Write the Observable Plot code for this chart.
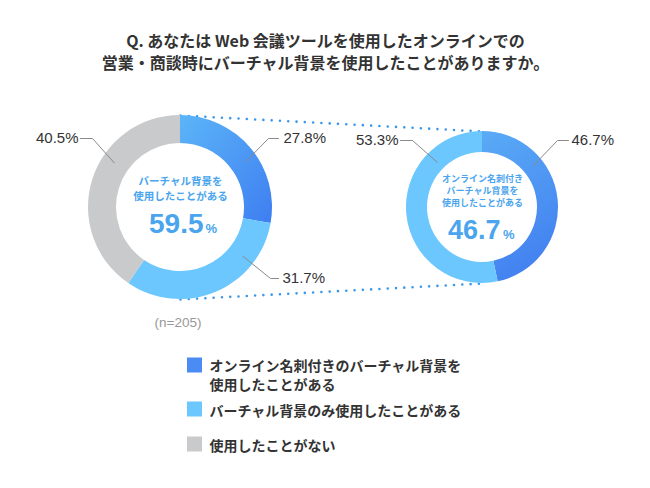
<!DOCTYPE html>
<html><head><meta charset="utf-8">
<script src="https://cdn.jsdelivr.net/npm/d3@7"></script>
<script src="https://cdn.jsdelivr.net/npm/@observablehq/plot@0.6"></script>
<style>body{margin:0;background:#fff}</style>
</head><body><div id="chart"></div>
<script>
// ---- data ----
const titleLines = ["Q. あなたは Web 会議ツールを使用したオンラインでの", "営業・商談時にバーチャル背景を使用したことがありますか。"];
const categories = ["オンライン名刺付きのバーチャル背景を使用したことがある", "バーチャル背景のみ使用したことがある", "使用したことがない"];
const overallValues = [27.8, 31.7, 40.5];
const usedShare = 59.5;
const breakdownCategories = ["オンライン名刺付き", "バーチャル背景のみ"];
const breakdownValues = [46.7, 53.3];
const sampleSize = 205;
const centerLabelLeft = ["バーチャル背景を", "使用したことがある"];
const centerLabelRight = ["オンライン名刺付き", "バーチャル背景を", "使用したことがある"];
const legendLabels = ["オンライン名刺付きのバーチャル背景を\n使用したことがある", "バーチャル背景のみ使用したことがある", "使用したことがない"];

// ---- style / layout ----
const colDark = "#4a8cf3", colLight = "#6bc7fd", colGray = "#c9cacc";
const textCol = "#333333", accent = "#4aa5ee";
const jp = "'Noto Sans CJK JP', sans-serif";
const num = "'Liberation Sans', Arial, sans-serif";
const L = {cx: 180, cy: 207, r0: 64, r1: 92};
const R = {cx: 482, cy: 207, r0: 55, r1: 76};

function donut(values, geo, fills, gradId, grad) {
  return (index, scales) => {
    const g = d3.create("svg:g");
    const lg = g.append("defs").append("linearGradient").attr("id", gradId)
      .attr("x1", grad[0]).attr("y1", grad[1]).attr("x2", grad[2]).attr("y2", grad[3]);
    lg.append("stop").attr("offset", "0%").attr("stop-color", grad[4]);
    lg.append("stop").attr("offset", "100%").attr("stop-color", grad[5]);
    const arcs = d3.pie().sort(null).value(d => d)(values);
    const arc = d3.arc().innerRadius(geo.r0).outerRadius(geo.r1);
    g.attr("transform", `translate(${scales.x(geo.cx)},${scales.y(geo.cy)})`);
    g.selectAll("path").data(arcs).join("path").attr("d", arc)
      .attr("fill", (d, i) => i === 0 ? `url(#${gradId})` : fills[i]);
    return g.node();
  };
}

const pt = (geo, a, r) => [geo.cx + r * Math.sin(a * Math.PI / 180), geo.cy - r * Math.cos(a * Math.PI / 180)];
const leaders = [
  {geo: L, angle: 55, r: 79, elbow: [268, 138], end: 278, label: overallValues[0], tx: 283, anchor: "start"},
  {geo: L, angle: 128, r: 79, elbow: [270, 278], end: 278, label: overallValues[1], tx: 282, anchor: "start"},
  {geo: L, angle: 304, r: 80, elbow: [92, 138], end: 80, label: overallValues[2], tx: 78, anchor: "end"},
  {geo: R, angle: 50.5, r: 66, elbow: [557, 140], end: 568, label: breakdownValues[0], tx: 571, anchor: "start"},
  {geo: R, angle: 315, r: 64, elbow: [412, 140], end: 400, label: breakdownValues[1], tx: 398, anchor: "end"}
];
const leaderPts = leaders.flatMap((d, i) => {
  const p = pt(d.geo, d.angle, d.r);
  return [{x: p[0], y: p[1], g: i}, {x: d.elbow[0], y: d.elbow[1], g: i}, {x: d.end, y: d.elbow[1], g: i}];
});

const connectors = [
  {x1: L.cx, y1: L.cy - L.r1, x2: R.cx, y2: R.cy - R.r1},
  {x1: L.cx, y1: L.cy + L.r1, x2: R.cx, y2: R.cy + R.r1}
];

const legendRows = [
  {y: 365, ty: 373.5, text: legendLabels[0], fill: colDark},
  {y: 409, ty: 409, text: legendLabels[1], fill: colLight},
  {y: 444, ty: 444, text: legendLabels[2], fill: colGray}
];

const pctText = (anchor) => Plot.text(leaders.filter(d => d.anchor === anchor), {
  x: "tx", y: d => d.elbow[1], text: d => d.label.toFixed(1) + "%", textAnchor: anchor,
  fontFamily: num, fontSize: 15, fill: textCol
});

const chart = Plot.plot({
  width: 650, height: 488, margin: 0,
  x: {domain: [0, 650], range: [0, 650], axis: null},
  y: {domain: [0, 488], range: [0, 488], axis: null},
  marks: [
    Plot.link(connectors, {x1: "x1", y1: "y1", x2: "x2", y2: "y2", stroke: "#3d97e8", strokeWidth: 2.6, strokeDasharray: "0 8.3", strokeLinecap: "round"}),
    donut(overallValues, L, [colDark, colLight, colGray], "gL", ["0", "0", "1", "1", "#5cb5f8", "#3e7ef1"]),
    donut(breakdownValues, R, [colDark, colLight], "gR", ["0", "0", "0.3", "1", "#5aabf6", "#4382f0"]),
    Plot.line(leaderPts, {x: "x", y: "y", z: "g", stroke: "#8a8a8a", strokeWidth: 1}),
    pctText("start"),
    pctText("end"),
    // titles
    Plot.text(titleLines, {x: 325, y: (d, i) => 41 + i * 22, text: d => d, fontFamily: jp, fontWeight: 700, fontSize: 16, fill: textCol}),
    // center labels
    Plot.text(centerLabelLeft, {x: L.cx, y: (d, i) => 181 + i * 15.5, text: d => d, fontFamily: jp, fontWeight: 700, fontSize: 10.5, fill: accent}),
    Plot.text([usedShare], {x: L.cx + 23, y: 232, text: d => d.toFixed(1), textAnchor: "end", lineAnchor: "bottom", fontFamily: num, fontWeight: 700, fontSize: 28, fill: accent}),
    Plot.text(["%"], {x: L.cx + 25, y: 232, text: d => d, textAnchor: "start", lineAnchor: "bottom", fontFamily: num, fontWeight: 700, fontSize: 13, fill: accent}),
    Plot.text(centerLabelRight, {x: R.cx, y: (d, i) => 179 + i * 12, text: d => d, fontFamily: jp, fontWeight: 700, fontSize: 9, fill: accent}),
    Plot.text([breakdownValues[0]], {x: R.cx + 18, y: 238, text: d => d.toFixed(1), textAnchor: "end", lineAnchor: "bottom", fontFamily: num, fontWeight: 700, fontSize: 27, fill: accent}),
    Plot.text(["%"], {x: R.cx + 20.5, y: 238, text: d => d, textAnchor: "start", lineAnchor: "bottom", fontFamily: num, fontWeight: 700, fontSize: 13, fill: accent}),
    // sample size
    Plot.text([sampleSize], {x: 177.5, y: 322, text: d => `(n=${d})`, fontFamily: num, fontSize: 13.5, fill: "#999999"}),
    // legend
    Plot.rect(legendRows, {x1: 187, x2: 202, y1: d => d.y - 7.5, y2: d => d.y + 7.5, fill: "fill"}),
    Plot.text(legendRows, {x: 209, y: "ty", text: "text", textAnchor: "start", lineHeight: 1.36, fontFamily: jp, fontWeight: 700, fontSize: 14, fill: textCol})
  ]
});
document.getElementById("chart").appendChild(chart);
</script>
</body></html>
